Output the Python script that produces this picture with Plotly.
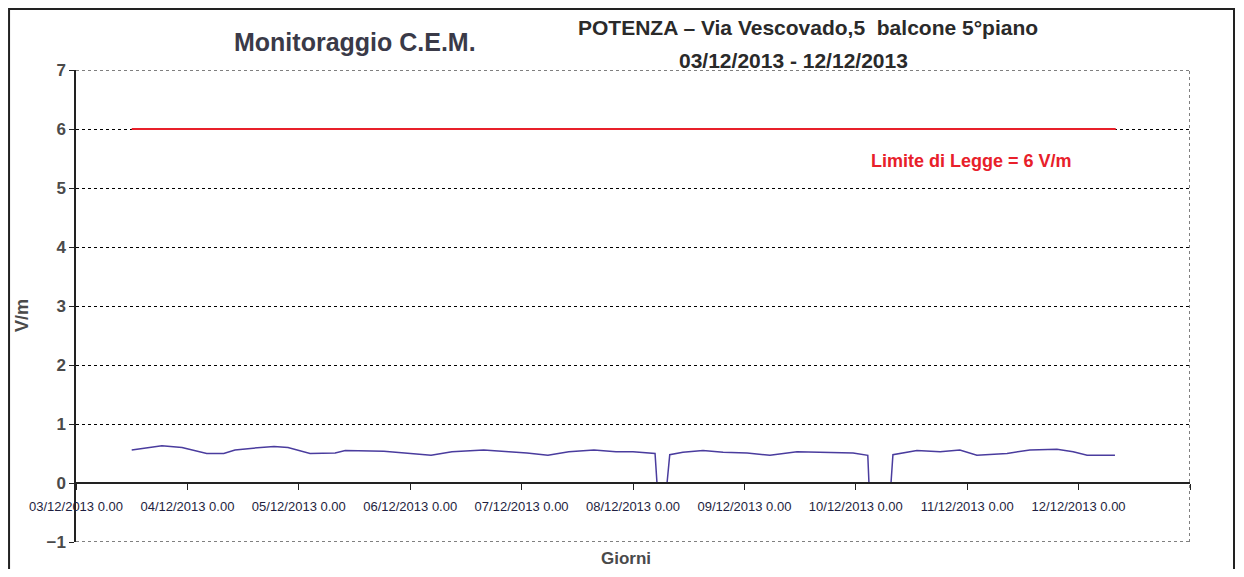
import plotly.graph_objects as go

# campo elettrico misurato (V/m)
tempi = [
    "2013-12-03 12:00", "2013-12-03 15:00", "2013-12-03 18:30", "2013-12-03 22:50",
    "2013-12-04 04:10", "2013-12-04 07:50", "2013-12-04 10:15", "2013-12-04 14:10",
    "2013-12-04 18:40", "2013-12-04 21:40", "2013-12-05 02:25", "2013-12-05 07:50",
    "2013-12-05 10:00", "2013-12-05 18:20", "2013-12-06 00:35", "2013-12-06 04:30",
    "2013-12-06 09:00", "2013-12-06 15:50", "2013-12-06 21:15", "2013-12-07 01:10",
    "2013-12-07 05:40", "2013-12-07 10:10", "2013-12-07 15:35", "2013-12-07 20:20",
    "2013-12-08 00:00", "2013-12-08 03:50", "2013-12-08 04:45", "2013-12-08 05:10",
    "2013-12-08 07:20", "2013-12-08 07:55", "2013-12-08 10:45", "2013-12-08 15:05",
    "2013-12-08 19:25", "2013-12-09 00:35", "2013-12-09 05:30", "2013-12-09 11:20",
    "2013-12-09 16:55", "2013-12-09 23:25", "2013-12-10 02:35", "2013-12-10 02:50",
    "2013-12-10 07:35", "2013-12-10 08:00", "2013-12-10 13:10", "2013-12-10 18:10",
    "2013-12-10 22:25", "2013-12-11 02:05", "2013-12-11 08:35", "2013-12-11 13:30",
    "2013-12-11 19:20", "2013-12-11 22:50", "2013-12-12 01:50", "2013-12-12 07:50",
]
campo = [
    0.56, 0.59, 0.63, 0.60,
    0.50, 0.50, 0.56, 0.59,
    0.62, 0.60, 0.50, 0.51,
    0.55, 0.54, 0.50, 0.47,
    0.53, 0.56, 0.53, 0.51,
    0.47, 0.53, 0.56, 0.53,
    0.53, 0.50, 0.50, 0.0,
    0.0, 0.48, 0.52, 0.55,
    0.52, 0.51, 0.47, 0.53,
    0.52, 0.51, 0.47, 0.0,
    0.0, 0.48, 0.55, 0.53,
    0.56, 0.47, 0.50, 0.56,
    0.57, 0.53, 0.47, 0.47,
]

limite_x = ["2013-12-03 12:00", "2013-12-12 08:00"]
limite_y = [6, 6]

tick_vals = ["2013-12-%02d" % d for d in range(3, 14)]
tick_text = ["%02d/12/2013 0.00" % d for d in range(3, 14)]

FONT = "Liberation Sans, Arial"
GRAY = "#4a4a4a"


def testo(x, y, text, size, color, angle=0, xref="paper", yref="paper"):
    fig.add_annotation(x=x, y=y, xref=xref, yref=yref, text=text, showarrow=False,
                       xanchor="center", yanchor="middle", textangle=angle,
                       font=dict(family=FONT, size=size, color=color))


fig = go.Figure()
fig.add_trace(go.Scatter(
    x=limite_x, y=limite_y, mode="lines", name="Limite di Legge",
    line=dict(color="#e8202a", width=2),
))
fig.add_trace(go.Scatter(
    x=tempi, y=campo, mode="lines", name="C.E.M.",
    line=dict(color="#4a3c9e", width=1.5),
))

testo("2013-12-11 01:00", 5.45, "<b>Limite di Legge = 6 V/m</b>", 18, "#e8202a", xref="x", yref="y")
testo(0.2504, 1.059, "<b>Monitoraggio C.E.M.</b>", 25, "#3a3a48")
testo(0.657, 1.089, "<b>POTENZA – Via Vescovado,5  balcone 5°piano</b>", 21, "#2a2a2a")
testo(0.644, 1.021, "<b>03/12/2013 - 12/12/2013</b>", 21, "#2a2a2a")
testo(0.494, -0.036, "<b>Giorni</b>", 17, GRAY)
testo(-0.048, 0.48, "<b>V/m</b>", 18, GRAY, angle=-90)

# bordi tratteggiati e cornice esterna
punteggiata = dict(color="black", width=1, dash="dot")
fig.add_shape(type="line", xref="x", yref="y", x0="2013-12-13", x1="2013-12-13", y0=-1, y1=7,
              line=punteggiata)
for yy in (-1, 7):
    fig.add_shape(type="line", xref="x", yref="y", x0="2013-12-03", x1="2013-12-13", y0=yy, y1=yy,
                  line=punteggiata)
fig.add_shape(type="rect", xref="paper", yref="paper", x0=-0.0601, x1=1.0395, y0=-0.2, y1=1.129,
              line=dict(color="#222", width=2))

fig.update_layout(
    width=1228, height=561, template="plotly_white", showlegend=False,
    paper_bgcolor="white", plot_bgcolor="white",
    margin=dict(l=68, r=46, t=62, b=27),
    xaxis=dict(
        range=["2013-12-03", "2013-12-13"], tickvals=tick_vals, ticktext=tick_text,
        anchor="free", position=0.125, showline=True, linecolor="#222", linewidth=1.5,
        ticks="outside", ticklen=6, tickcolor="#222", showgrid=False, zeroline=False,
        ticklabelstandoff=6,
        tickfont=dict(family=FONT, size=13, color="#1e1e40"),
    ),
    yaxis=dict(
        range=[-1, 7], dtick=1, showline=True, linecolor="#222", linewidth=1.5,
        ticks="outside", ticklen=5, tickcolor="#222",
        showgrid=True, gridcolor="black", gridwidth=1, griddash="dot", zeroline=False,
        tickfont=dict(family=FONT, size=17, color=GRAY, weight="bold"),
    ),
)

fig.write_html("out.html")
